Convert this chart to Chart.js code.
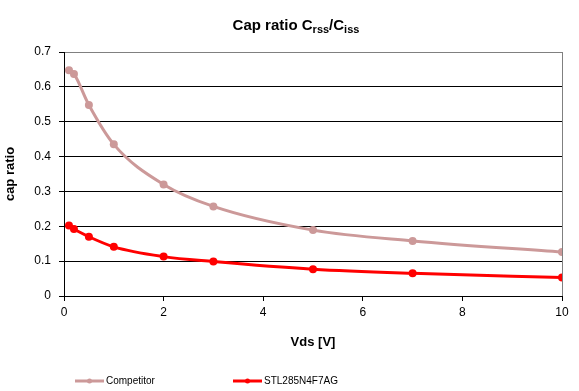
<!DOCTYPE html>
<html>
<head>
<meta charset="utf-8">
<title>Cap ratio Crss/Ciss</title>
<script src="https://cdn.jsdelivr.net/npm/chart.js@4.4.0/dist/chart.umd.min.js"></script>
<style>
	html, body { margin: 0; padding: 0; background: #fff; }
	canvas { display: block; }
</style>
</head>
<body>
<canvas id="canvas1" width="579" height="391"></canvas>
<script>
var vdsValues = [0.1, 0.2, 0.5, 1, 2, 3, 5, 7, 10];
var competitorValues = [0.648, 0.637, 0.548, 0.435, 0.320, 0.257, 0.189, 0.158, 0.126];
var stlValues = [0.202, 0.192, 0.170, 0.141, 0.113, 0.099, 0.077, 0.065, 0.053];
var seriesNames = ["Competitor", "STL285N4F7AG"];
var seriesColors = ["#CC9999", "#FF0000"];
var xTickValues = [0, 2, 4, 6, 8, 10];
var yTickValues = [0, 0.1, 0.2, 0.3, 0.4, 0.5, 0.6, 0.7];

var FONT = "Arial, 'Liberation Sans', sans-serif";

var CapChart = {

	init: function(){
		var data = CapChart.setGraphValues();
		CapChart.generateGraph(data);
	},

	setGraphValues: function(){
		var series = [competitorValues, stlValues];
		return {
			datasets: series.map(function(values, i){
				return {
					label: seriesNames[i],
					data: values.map(function(v, j){ return {x: vdsValues[j], y: v}; }),
					borderColor: seriesColors[i],
					backgroundColor: seriesColors[i],
					pointBackgroundColor: seriesColors[i],
					pointBorderColor: seriesColors[i],
					borderWidth: 3,
					pointRadius: 4,
					pointBorderWidth: 0,
					pointHoverRadius: 4,
					fill: false,
					cubicInterpolationMode: 'monotone'
				};
			})
		};
	},

	// title with subscripts, drawn by hand since the title plugin has no rich text
	titlePlugin: {
		id: 'subTitle',
		afterDraw: function(chart){
			var ctx = chart.ctx;
			var parts = [["Cap ratio C", false], ["rss", true], ["/C", false], ["iss", true]];
			ctx.save();
			var total = 0;
			parts.forEach(function(p){
				ctx.font = (p[1] ? 'bold 11px ' : 'bold 15px ') + FONT;
				total += ctx.measureText(p[0]).width;
			});
			var x = 296 - total / 2;
			ctx.fillStyle = '#000';
			ctx.textBaseline = 'alphabetic';
			ctx.textAlign = 'left';
			parts.forEach(function(p){
				ctx.font = (p[1] ? 'bold 11px ' : 'bold 15px ') + FONT;
				ctx.fillText(p[0], x, p[1] ? 33 : 30);
				x += ctx.measureText(p[0]).width;
			});
			ctx.restore();
		}
	},

	legendPlugin: {
		id: 'lineLegend',
		afterDraw: function(chart){
			var ctx = chart.ctx;
			var starts = [75, 233];
			var y = 381;
			ctx.save();
			chart.data.datasets.forEach(function(ds, i){
				var x = starts[i];
				ctx.strokeStyle = ds.borderColor;
				ctx.lineWidth = 3;
				ctx.beginPath();
				ctx.moveTo(x, y);
				ctx.lineTo(x + 29, y);
				ctx.stroke();
				ctx.fillStyle = ds.borderColor;
				ctx.beginPath();
				ctx.arc(x + 14.5, y, 2.5, 0, Math.PI * 2);
				ctx.fill();
				ctx.fillStyle = '#000';
				ctx.font = '10px ' + FONT;
				ctx.textBaseline = 'middle';
				ctx.fillText(ds.label, x + 31, y);
			});
			ctx.restore();
		}
	},

	generateGraph: function(graphValues){
		var ctx = document.getElementById("canvas1").getContext("2d");
		window.myLine = new Chart(ctx, {
			type: 'line',
			data: graphValues,
			plugins: [CapChart.titlePlugin, CapChart.legendPlugin],
			options: {
				responsive: false,
				animation: false,
				devicePixelRatio: 1,
				layout: {
					padding: {left: 0, top: 52, right: 17, bottom: 41}
				},
				plugins: {
					legend: { display: false },
					title: { display: false },
					tooltip: { enabled: false }
				},
				scales: {
					x: {
						type: 'linear',
						min: 0,
						max: 10,
						afterBuildTicks: function(scale){
							scale.ticks = xTickValues.map(function(v){ return {value: v}; });
						},
						afterFit: function(scale){ scale.height = 54; },
						grid: {
							color: function(c){ return c.tick && c.tick.value === 10 ? '#808080' : 'rgba(0,0,0,0)'; },
							tickColor: '#000',
							tickLength: 5,
							lineWidth: 1
						},
						border: { color: '#000', width: 1 },
						ticks: {
							color: '#000',
							font: { family: FONT, size: 12 },
							padding: 4,
							maxRotation: 0,
							callback: function(v){ return String(v); }
						},
						title: {
							display: true,
							text: 'Vds [V]',
							color: '#000',
							font: { family: FONT, size: 13, weight: 'bold' },
							padding: { top: 0, bottom: 0 }
						}
					},
					y: {
						type: 'linear',
						min: 0,
						max: 0.7,
						afterBuildTicks: function(scale){
							scale.ticks = yTickValues.map(function(v){ return {value: v}; });
						},
						afterFit: function(scale){ scale.width = 64; },
						grid: {
							color: function(c){ return c.tick && c.tick.value === 0.7 ? '#808080' : '#000'; },
							tickColor: '#000',
							tickLength: 5,
							lineWidth: 1
						},
						border: { color: '#000', width: 1 },
						ticks: {
							color: '#000',
							font: { family: FONT, size: 12 },
							padding: 8,
							callback: function(v){ return String(v); }
						},
						title: {
							display: true,
							text: 'cap ratio',
							color: '#000',
							font: { family: FONT, size: 13, weight: 'bold' },
							padding: { top: 3, bottom: 0 }
						}
					}
				}
			}
		});
	}
};

CapChart.init();
</script>
</body>
</html>
